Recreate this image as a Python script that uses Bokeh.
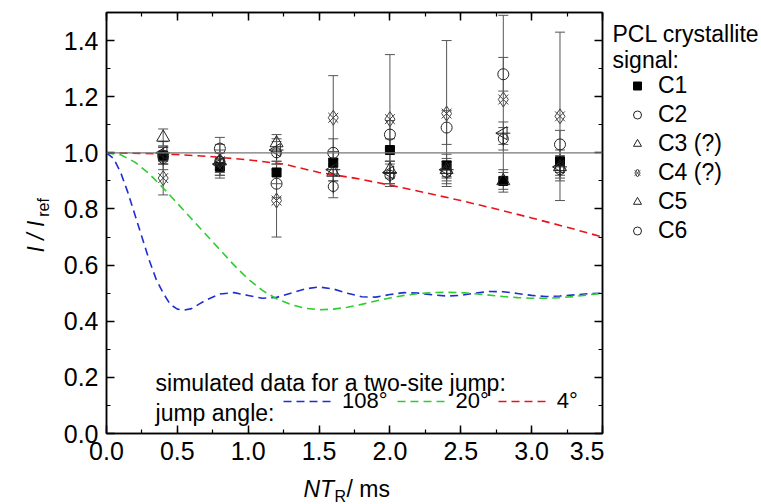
import numpy as np
from bokeh.plotting import figure
from bokeh.layouts import row, column
from bokeh.models import (ColumnDataSource, Whisker, TeeHead, Span, Label, Legend, LegendItem,
                          LinearAxis, SingleIntervalTicker, NumeralTickFormatter, Range1d,
                          CustomJSTickFormatter)
from bokeh.embed import file_html
from bokeh.resources import INLINE

# ---------------- data ----------------
nt = [0.4, 0.8, 1.2, 1.6, 2.0, 2.4, 2.8, 3.2]
c1 = [0.99, 0.95, 0.93, 0.965, 1.01, 0.955, 0.90, 0.97]
c1_err = [0.03, 0.03, 0.04, 0.04, 0.04, 0.04, 0.04, 0.04]
c2 = [0.99, 1.015, 0.89, 1.00, 1.065, 1.09, 1.28, 1.03]
c2_err = [0.03, 0.04, 0.05, 0.05, 0.05, 0.06, 0.06, 0.05]
c3 = [1.055, 0.97, 1.035, 0.93, 0.94, 0.94, 0.90, 0.95]
c3_err = [0.03, 0.03, 0.03, 0.03, 0.03, 0.03, 0.03, 0.03]
c4 = [0.91, 0.97, 0.83, 1.125, 1.12, 1.14, 1.19, 1.13]
c4_err = [0.06, 0.06, 0.13, 0.15, 0.23, 0.26, 0.30, 0.30]
c5 = [1.00, 0.96, 1.01, 0.94, 0.93, 0.94, 1.07, 0.95]
c5_err = [0.04, 0.04, 0.04, 0.04, 0.04, 0.04, 0.04, 0.04]
c6 = [0.98, 0.97, 1.00, 0.88, 0.92, 0.93, 1.05, 0.94]
c6_err = [0.04, 0.04, 0.04, 0.04, 0.04, 0.04, 0.04, 0.04]

blue_t = [0, .05, .1, .15, .2, .25, .3, .35, .4, .45, .5, .55, .6, .65, .7, .8, .9, 1.0,
          1.1, 1.2, 1.3, 1.4, 1.5, 1.6, 1.7, 1.8, 1.9, 2.0, 2.1, 2.2, 2.3, 2.4, 2.5, 2.6,
          2.7, 2.8, 2.9, 3.0, 3.1, 3.2, 3.3, 3.4, 3.5]
blue_v = [1.0, 0.98, 0.93, 0.86, 0.78, 0.70, 0.62, 0.55, 0.50, 0.46, 0.443, 0.44, 0.445,
          0.46, 0.475, 0.497, 0.502, 0.492, 0.482, 0.485, 0.50, 0.515, 0.522, 0.515, 0.50,
          0.487, 0.486, 0.495, 0.502, 0.50, 0.494, 0.49, 0.492, 0.50, 0.506, 0.505, 0.499,
          0.492, 0.488, 0.49, 0.494, 0.498, 0.50]
green_t = [0.0, 0.1, 0.2, 0.3, 0.4, 0.5, 0.6, 0.7, 0.8, 0.9, 1.0, 1.1, 1.2, 1.3, 1.4, 1.5,
           1.6, 1.7, 1.8, 1.9, 2.0, 2.1, 2.2, 2.3, 2.4, 2.5, 2.6, 2.7, 2.8, 2.9, 3.0, 3.1,
           3.2, 3.3, 3.4, 3.5]
green_v = [1.0, 0.993, 0.967, 0.926, 0.875, 0.82, 0.765, 0.71, 0.655, 0.60, 0.55, 0.51,
           0.48, 0.46, 0.446, 0.441, 0.443, 0.45, 0.46, 0.472, 0.483, 0.492, 0.498, 0.502,
           0.503, 0.502, 0.498, 0.493, 0.488, 0.484, 0.482, 0.482, 0.484, 0.488, 0.494, 0.50]
red_t = [0.0, 0.25, 0.5, 0.75, 1.0, 1.25, 1.5, 1.75, 2.0, 2.25, 2.5, 2.75, 3.0, 3.25, 3.5]
red_v = [1.0, 0.998, 0.994, 0.986, 0.975, 0.96, 0.93, 0.91, 0.885, 0.858, 0.83, 0.80,
         0.768, 0.735, 0.70]

series_labels = ["C1", "C2", "C3 (?)", "C4 (?)", "C5", "C6"]
angle_labels = ["108°", "20°", "4°"]

FONT = "Liberation Sans"
TXT = "23px"
ROW_H = 470
LEFT_W = 58

# ---------------- main plot ----------------
yr = Range1d(0, 1.5)
p = figure(width=604 - LEFT_W, height=ROW_H, output_backend="svg", toolbar_location=None,
           x_range=Range1d(0, 3.5), y_range=yr,
           min_border_left=106 - LEFT_W, min_border_right=2, min_border_top=12, min_border_bottom=37)
p.outline_line_color = "black"
p.outline_line_width = 1.5
p.xgrid.visible = False
p.ygrid.visible = False

xt = SingleIntervalTicker(interval=0.5, num_minor_ticks=2)
yt = SingleIntervalTicker(interval=0.2, num_minor_ticks=2)


def style_axis(ax, ticker, labels=True):
    ax.ticker = ticker
    ax.major_tick_in = 8
    ax.major_tick_out = 0
    ax.minor_tick_in = 4
    ax.minor_tick_out = 0
    ax.axis_line_width = 1.5
    ax.major_tick_line_width = 1.5
    ax.minor_tick_line_width = 1.2
    ax.axis_line_color = "black"
    if labels:
        ax.formatter = NumeralTickFormatter(format="0.0")
        ax.major_label_text_font = FONT
        ax.major_label_text_font_size = "25px"
        ax.major_label_text_color = "black"
        ax.major_label_standoff = 8
    else:
        ax.formatter = CustomJSTickFormatter(code="return ''")
        ax.major_label_standoff = 0


style_axis(p.xaxis[0], xt)
style_axis(p.yaxis[0], yt)
top_ax = LinearAxis()
style_axis(top_ax, xt, labels=False)
p.add_layout(top_ax, "above")
right_ax = LinearAxis()
style_axis(right_ax, yt, labels=False)
p.add_layout(right_ax, "right")

p.add_layout(Span(location=1.0, dimension="width", line_color="#777777", line_width=1.2))

DASH = "8 5"
r_blue = p.line(blue_t, blue_v, line_color="#1f2fd0", line_width=1.6, line_dash=DASH)
r_green = p.line(green_t, green_v, line_color="#2ecc2e", line_width=1.6, line_dash=DASH)
r_red = p.line(red_t, red_v, line_color="#e8141a", line_width=1.6, line_dash=DASH)

EB = "#555555"
series = [(c1, c1_err), (c2, c2_err), (c3, c3_err), (c4, c4_err), (c5, c5_err), (c6, c6_err)]
for vals, errs in series:
    src = ColumnDataSource(dict(x=nt,
                                lo=[v - e for v, e in zip(vals, errs)],
                                hi=[v + e for v, e in zip(vals, errs)]))
    p.add_layout(Whisker(base="x", lower="lo", upper="hi", source=src, line_color=EB, line_width=1,
                         upper_head=TeeHead(size=10, line_color=EB, line_width=1),
                         lower_head=TeeHead(size=10, line_color=EB, line_width=1)))

INK = "#222222"
GREY = "#444444"


def draw_markers(fig, xs, ys_list, key=False):
    y1, y2, y3, y4, y5, y6 = ys_list
    r = []
    r.append([fig.scatter(xs, y1, marker="square", size=9, fill_color="black", line_color="black")])
    r.append([fig.scatter(xs, y2, marker="circle", size=11, fill_color=None, line_color=INK)])
    r.append([fig.scatter(xs, y3, marker="triangle", size=13, fill_color=None, line_color=INK)])
    r.append([fig.scatter(xs, y4, marker="x", size=14, line_color=GREY),
              fig.scatter(xs, y4, marker="diamond", size=15, fill_color=None, line_color=GREY)])
    if key:
        r.append([fig.scatter(xs, y5, marker="triangle", size=12, fill_color=None, line_color=INK)])
        r.append([fig.scatter(xs, y6, marker="circle", size=10, fill_color=None, line_color=INK)])
    else:
        r.append([fig.scatter(xs, y5, marker="triangle", angle=np.pi / 2, size=13, fill_color=None,
                              line_color=INK),
                  fig.scatter(xs, y5, marker="dash", size=14, line_color=INK)])
        r.append([fig.scatter(xs, y6, marker="circle", size=10, fill_color=None, line_color=INK),
                  fig.scatter(xs, y6, marker="dash", angle=np.pi / 2, size=14, line_color=INK)])
    return r


draw_markers(p, nt, [c1, c2, c3, c4, c5, c6])

leg2 = Legend(items=[LegendItem(label=angle_labels[0], renderers=[r_blue]),
                     LegendItem(label=angle_labels[1], renderers=[r_green]),
                     LegendItem(label=angle_labels[2], renderers=[r_red])],
              location=(177, 19), orientation="horizontal",
              label_text_font=FONT, label_text_font_size="22px", label_text_color="black",
              glyph_width=49, glyph_height=20, spacing=9, label_standoff=10,
              padding=0, margin=0, border_line_color=None, background_fill_alpha=0)
p.add_layout(leg2)


def lab(fig, x, y, text, size=TXT, style="normal", angle=0.0, baseline="alphabetic"):
    fig.add_layout(Label(x=x, y=y, text=text, text_font=FONT, text_font_size=size,
                         text_font_style=style, text_color="black", angle=angle,
                         text_align="left", text_baseline=baseline))


lab(p, 0.346, 0.1817, "simulated data for a two-site jump:")
lab(p, 0.346, 0.0713, "jump angle:")


# ---------------- side panels (text areas; their frames align with the main frame) ----------------
def blank(w, h, y_range):
    f = figure(width=w, height=h, output_backend="svg", toolbar_location=None,
               x_range=Range1d(0, w), y_range=y_range,
               x_axis_type=None, y_axis_type=None, min_border=0)
    f.outline_line_color = None
    return f


left = blank(LEFT_W, ROW_H, yr)
lab(left, 35, 0.645, "I / I", size="23px", style="italic", angle=np.pi / 2)
lab(left, 43, 0.772, "ref", size="16px", angle=np.pi / 2)

right = blank(157, ROW_H, yr)
lab(right, 8, 1.422, "PCL crystallite")
lab(right, 8, 1.329, "signal:")
nan = [np.nan]
key_renderers = draw_markers(right, nan, [nan] * 6, key=True)
leg = Legend(items=[LegendItem(label=lbl, renderers=rs) for lbl, rs in zip(series_labels, key_renderers)],
             location=(23, 189), orientation="vertical",
             label_text_font=FONT, label_text_font_size=TXT, label_text_color="black",
             glyph_width=20, glyph_height=25, label_height=25, spacing=2, label_standoff=11,
             padding=0, margin=0, border_line_color=None, background_fill_alpha=0)
right.add_layout(leg)

BOT_H = 504 - ROW_H
bottom = blank(761, BOT_H, Range1d(0, BOT_H))
lab(bottom, 303, 504 - 488, "NT", size="23px", style="italic", baseline="middle")
lab(bottom, 334, 504 - 496, "R", size="16px", baseline="middle")
lab(bottom, 346, 504 - 488, "/ ms", size="23px", baseline="middle")

layout = column(row(left, p, right, spacing=0), bottom, spacing=0)
open("out.html", "w").write(file_html(layout, INLINE))
